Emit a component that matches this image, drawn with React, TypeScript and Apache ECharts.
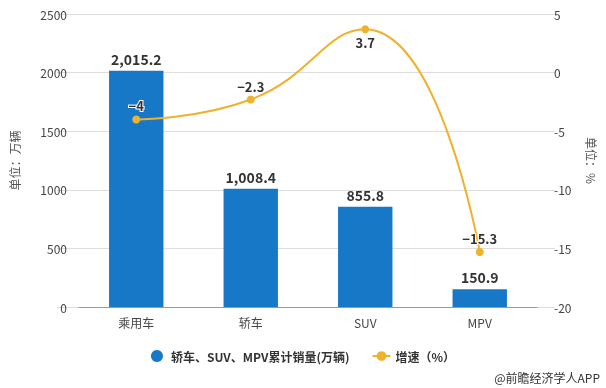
import React, { useEffect, useRef } from "react";
import * as echarts from "echarts";

const categories = ["乘用车", "轿车", "SUV", "MPV"];
const salesValues = [2015.2, 1008.4, 855.8, 150.9];
const growthValues = [-4, -2.3, 3.7, -15.3];
const leftTicks = { min: 0, max: 2500, interval: 500 };
const rightTicks = { min: -20, max: 5, interval: 5 };
const seriesNames = ["轿车、SUV、MPV累计销量(万辆)", "增速（%）"];

const FONT = "'Microsoft YaHei', 'Noto Sans CJK SC', sans-serif";

export default function App() {
  const ref = useRef<HTMLDivElement>(null);
  useEffect(() => {
    if (!ref.current) return;
    const chart = echarts.init(ref.current, null, { renderer: "svg" });
    chart.setOption({
      animation: false,
      textStyle: { fontFamily: FONT },
      grid: [
        { left: 67, right: 60, top: 14, bottom: 81 },
        { left: 57, right: 51, top: 14, bottom: 81 },
      ],
      legend: {
        bottom: 21,
        left: "center",
        itemGap: 22,
        itemWidth: 18,
        itemHeight: 12,
        textStyle: { color: "#333", fontSize: 12, fontWeight: "bold", fontFamily: FONT },
        data: [
          { name: seriesNames[0], icon: "circle" },
          { name: seriesNames[1] },
        ],
      },
      graphic: [
        {
          type: "text",
          right: 6,
          bottom: 5,
          style: { text: "@前瞻经济学人APP", fill: "#333", font: `12px ${FONT}` },
        },
      ],
      xAxis: [
        {
          type: "category",
          gridIndex: 0,
          data: categories,
          axisLine: { lineStyle: { color: "#999" } },
          axisTick: { alignWithLabel: true, lineStyle: { color: "#999" } },
          axisLabel: { color: "#444", fontSize: 12, margin: 9 },
        },
        { type: "value", gridIndex: 1, min: 0, max: 1, show: false },
      ],
      yAxis: [
        {
          type: "value",
          gridIndex: 0,
          ...leftTicks,
          name: "单位：万辆",
          nameLocation: "middle",
          nameGap: 59,
          nameTextStyle: { color: "#555", fontSize: 12 },
          axisLine: { show: false },
          axisTick: { show: false },
          axisLabel: { color: "#444", fontSize: 12, margin: 12, formatter: (v: number) => String(v) },
          splitLine: { show: false },
        },
        {
          type: "value",
          gridIndex: 0,
          ...rightTicks,
          name: "单位：%",
          nameLocation: "middle",
          nameGap: 49,
          nameRotate: -90,
          nameTextStyle: { color: "#555", fontSize: 12 },
          axisLine: { show: false },
          axisTick: { show: false },
          axisLabel: { color: "#444", fontSize: 12, margin: 17, formatter: (v: number) => String(v) },
          splitLine: { show: false },
        },
        {
          type: "value",
          gridIndex: 1,
          ...leftTicks,
          axisLine: { show: false },
          axisTick: { show: false },
          axisLabel: { show: false },
          splitLine: { lineStyle: { color: "#ddd" } },
        },
      ],
      series: [
        {
          name: seriesNames[0],
          type: "bar",
          data: salesValues,
          barWidth: "47.5%",
          itemStyle: { color: "#1878C8" },
          label: {
            show: true,
            position: "top",
            distance: 5,
            color: "#333",
            fontWeight: "bold",
            fontSize: 14,
            formatter: (p: any) =>
              Number(p.value).toLocaleString("en-US", {
                minimumFractionDigits: 1,
                maximumFractionDigits: 1,
              }),
          },
        },
        {
          name: seriesNames[1],
          type: "line",
          yAxisIndex: 1,
          data: growthValues.map((v, i) => ({
            value: v,
            label: { position: i === 2 ? "bottom" : "top" },
          })),
          smooth: true,
          symbol: "circle",
          symbolSize: 8,
          itemStyle: { color: "#F0B12C" },
          lineStyle: { color: "#F0B12C", width: 2 },
          label: {
            show: true,
            color: "#333",
            fontWeight: "bold",
            fontSize: 13,
            distance: 3,
            textBorderColor: "#fff",
            textBorderWidth: 2,
            formatter: (p: any) => String(p.value).replace("-", "−"),
          },
        },
      ],
    });
    return () => chart.dispose();
  }, []);
  return (
    <div
      ref={ref}
      style={{ position: "fixed", left: 0, top: 0, width: 606, height: 388 }}
    />
  );
}
